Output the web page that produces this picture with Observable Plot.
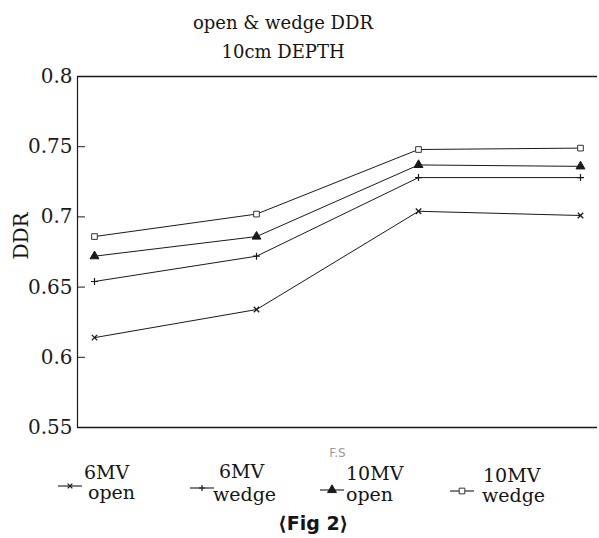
<!DOCTYPE html>
<html><head><meta charset="utf-8">
<script src="https://cdn.jsdelivr.net/npm/d3@7"></script>
<script src="https://cdn.jsdelivr.net/npm/@observablehq/plot@0.6"></script>
<style>
body{margin:0;background:#fff;}
#wrap{position:relative;width:599px;height:538px;overflow:hidden;font-family:"DejaVu Serif",serif;color:#151515;background:#fff;}
.abs{position:absolute;white-space:nowrap;line-height:1;}
#chart{position:absolute;left:0;top:62px;}
</style></head><body><div id="wrap"><div id="chart"></div></div>
<script>
const fieldSizes = ["FS1","FS2","FS3","FS4"];
const series = ["6MV open","6MV wedge","10MV open","10MV wedge"];
const v6open   = [0.614, 0.634, 0.704, 0.701];
const v6wedge  = [0.654, 0.672, 0.728, 0.728];
const v10open  = [0.672, 0.686, 0.737, 0.736];
const v10wedge = [0.686, 0.702, 0.748, 0.749];
const yTicks = [0.55, 0.6, 0.65, 0.7, 0.75, 0.8];
const yTickLabels = ["0.55","0.6","0.65","0.7","0.75","0.8"];
const titleLines = ["open & wedge DDR", "10cm DEPTH"];
const xLabel = "F.S";
const yLabel = "DDR";
const legendTop = ["6MV","6MV","10MV","10MV"];
const legendBottom = ["open","wedge","open","wedge"];
const caption = "\u27E8Fig 2\u27E9";

const values = [v6open, v6wedge, v10open, v10wedge];
const rows = series.flatMap((s, i) => values[i].map((v, j) => ({series: s, fs: fieldSizes[j], ddr: v})));
const ink = "#1a1a1a";
const markerStyle = {
  "6MV open":  {symbol: "times",    r: 2.6, fill: "none",  stroke: ink, strokeWidth: 1.3},
  "6MV wedge": {symbol: "plus",     r: 2.4, fill: "none",  stroke: ink, strokeWidth: 1.2},
  "10MV open": {symbol: "triangle", r: 3.3, fill: ink,     stroke: ink, strokeWidth: 1},
  "10MV wedge":{symbol: "square",   r: 3.2, fill: "white", stroke: "#333", strokeWidth: 1}
};

const chart = Plot.plot({
  width: 599, height: 399,
  marginTop: 14, marginLeft: 77, marginRight: 2, marginBottom: 34,
  x: {type: "point", domain: fieldSizes, padding: 0.097, axis: null},
  y: {domain: [0.55, 0.8], axis: null},
  style: {fontFamily: "DejaVu Serif", background: "white", color: ink},
  marks: [
    Plot.ruleY([0.55, 0.8], {stroke: ink, strokeWidth: 1.3}),
    Plot.frame({anchor: "left", stroke: ink, strokeWidth: 1.2}),
    Plot.axisY(yTicks, {tickSize: -8, tickPadding: 13, fontSize: 20, tickFormat: d => yTickLabels[yTicks.indexOf(d)], label: null, stroke: ink}),
    Plot.text([xLabel], {frameAnchor: "bottom", lineAnchor: "bottom", dy: 29, fontSize: 12, fill: "#999", fontFamily: "DejaVu Sans"}),
    Plot.line(rows, {x: "fs", y: "ddr", z: "series", stroke: ink, strokeWidth: 1}),
    ...series.map(s => Plot.dot(rows.filter(d => d.series === s), {x: "fs", y: "ddr", ...markerStyle[s]}))
  ]
});
document.getElementById("chart").appendChild(chart);

const wrap = document.getElementById("wrap");
function addText(txt, x, baseline, size, extra = "") {
  const d = document.createElement("div");
  d.className = "abs";
  d.textContent = txt;
  d.style.cssText += `left:${x}px;top:${baseline - size * 0.8}px;font-size:${size}px;${extra}`;
  wrap.appendChild(d);
  return d;
}
// title
const t1 = addText(titleLines[0], 0, 28, 18);
const t2 = addText(titleLines[1], 0, 57, 18);
[t1, t2].forEach(t => { t.style.left = (283 - t.offsetWidth / 2) + "px"; });
// y label
const yl = document.createElement("div");
yl.className = "abs";
yl.textContent = yLabel;
yl.style.cssText += "left:21px;top:236px;font-size:20px;transform:translate(-50%,-50%) rotate(-90deg);";
wrap.appendChild(yl);

// legend
const legendLayout = [
  {mx: 58, my: 486, top: [84, 478], bot: [88, 498]},
  {mx: 190, my: 488, top: [219, 477], bot: [213, 500]},
  {mx: 320, my: 490, top: [346, 479], bot: [346, 500]},
  {mx: 450, my: 491, top: [483, 481], bot: [482, 501]}
];
series.forEach((s, i) => {
  const L = legendLayout[i];
  const svg = d3.select(wrap).append("svg")
    .attr("width", 26).attr("height", 14)
    .style("position", "absolute").style("left", L.mx + "px").style("top", (L.my - 7) + "px");
  svg.append("line").attr("x1", 0).attr("x2", 24).attr("y1", 7).attr("y2", 7).attr("stroke", ink).attr("stroke-width", 1.1);
  const m = markerStyle[s];
  const symMap = {times: d3.symbolTimes, plus: d3.symbolPlus, triangle: d3.symbolTriangle, square: d3.symbolSquare};
  const area = m.symbol === "plus" || m.symbol === "times" ? Math.pow(m.r * 2.4, 2) / 2.4 : Math.PI * m.r * m.r;
  svg.append("path").attr("transform", "translate(12,7)")
    .attr("d", d3.symbol(symMap[m.symbol], area)())
    .attr("fill", m.fill).attr("stroke", m.stroke).attr("stroke-width", m.strokeWidth);
  addText(legendTop[i], L.top[0], L.top[1], 19);
  addText(legendBottom[i], L.bot[0], L.bot[1], 19);
});
// caption
const cap = addText(caption, 0, 529, 19, "font-family:'DejaVu Sans',sans-serif;font-weight:bold;");
cap.style.left = (313 - cap.offsetWidth / 2) + "px";
</script>
</body></html>
